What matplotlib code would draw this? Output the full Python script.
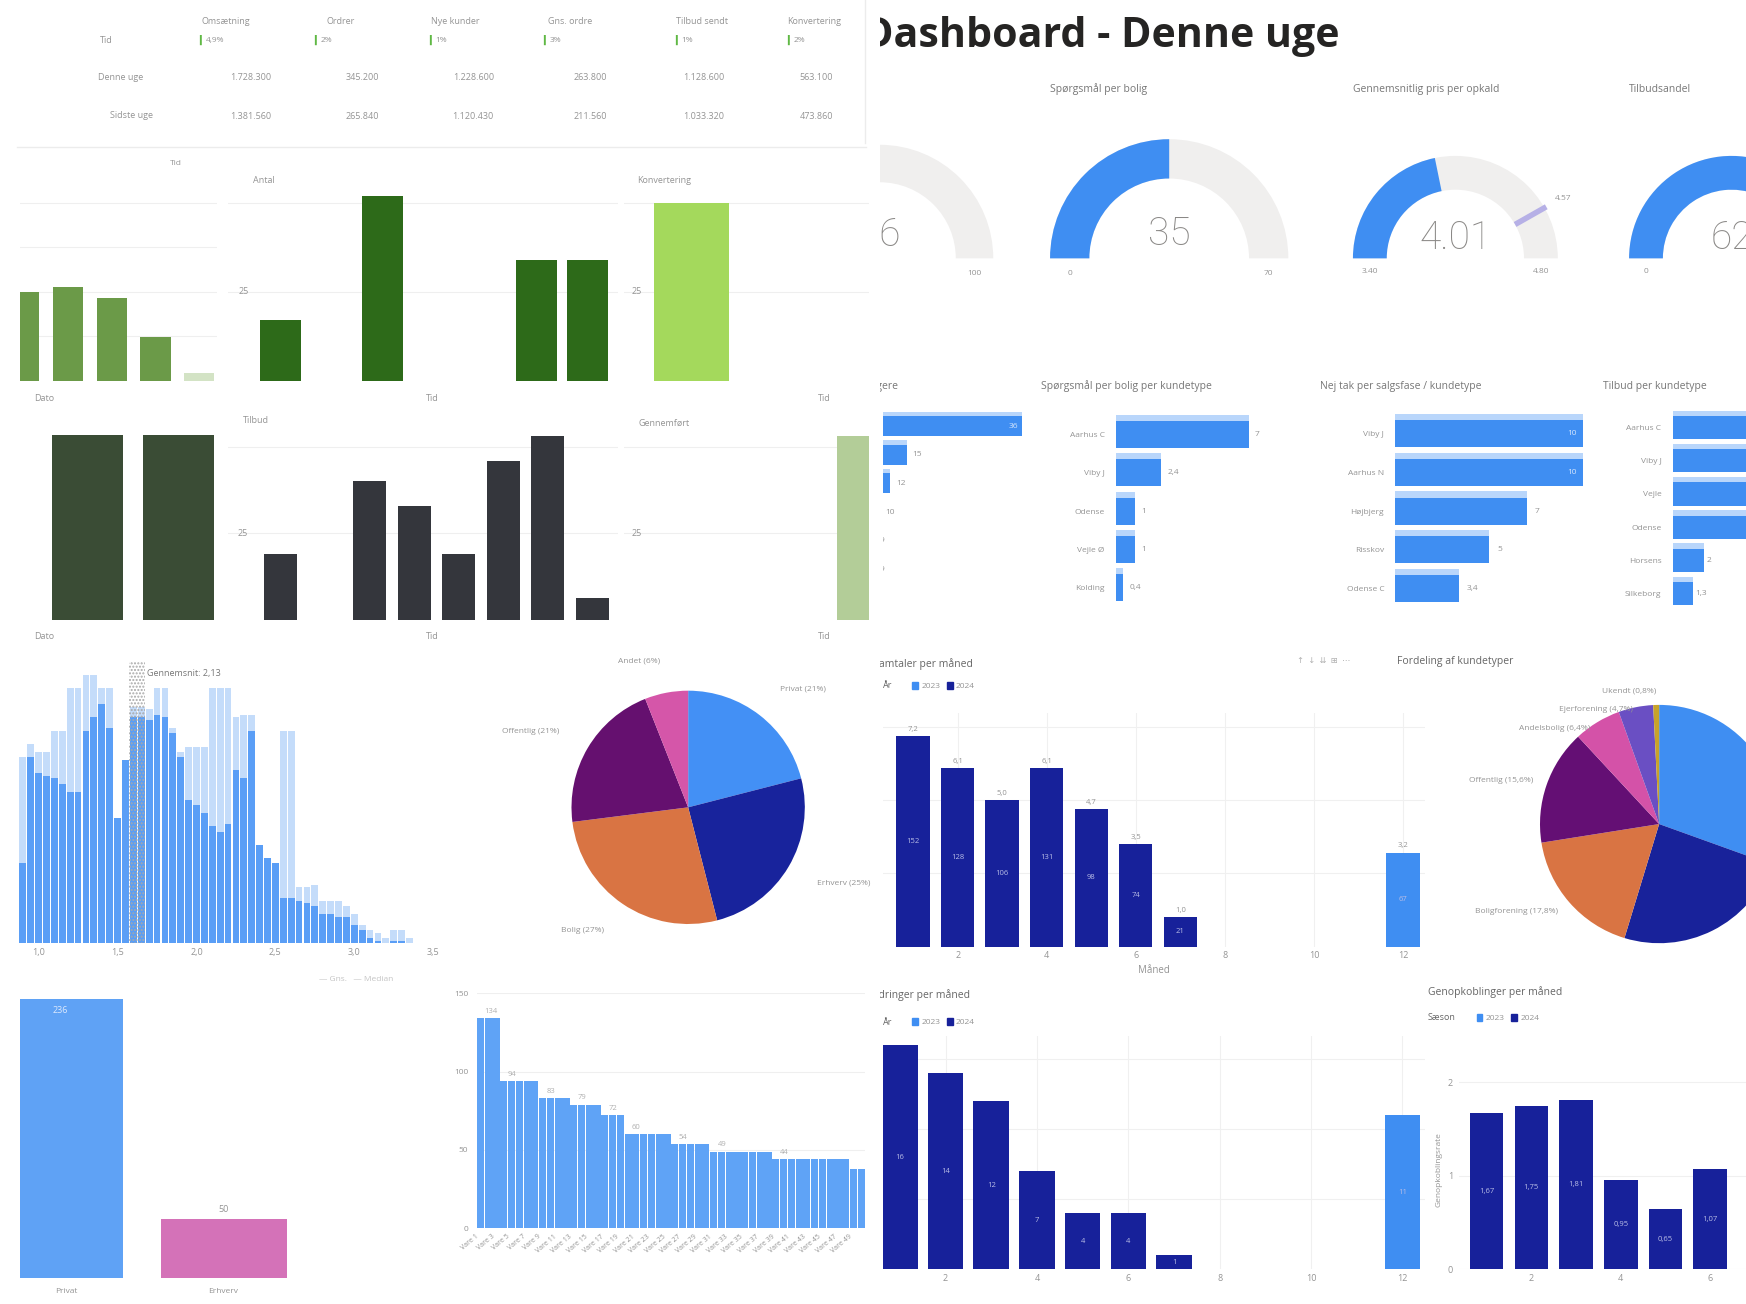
import matplotlib.pyplot as plt
import numpy as np
from matplotlib.patches import Wedge, Patch

plt.rcParams['font.family'] = ['Open Sans', 'DejaVu Sans']
plt.rcParams['axes.facecolor'] = 'none'

# ---------------- data ----------------
table_head = ['Omsætning', 'Ordrer', 'Nye kunder', 'Gns. ordre', 'Tilbud sendt', 'Konvertering']
table_delta = ['4,9%', '2%', '1%', '3%', '1%', '2%']
table_rows = ['Denne uge', 'Sidste uge']
table_now = ['1.728.300', '345.200', '1.228.600', '263.800', '1.128.600', '563.100']
table_prev = ['1.381.560', '265.840', '1.120.430', '211.560', '1.033.320', '473.860']

green_a = [20, 21, 18.5, 9.8, 1.8]
green_b = [17, 0, 52, 0, 0, 34, 34]
green_d = [50, 0]
green_e = [8, 8]
gray_f = [19, 0, 40, 33, 19, 46, 53, 6.4]
green_g = [0, 53]

hist_med = [30, 70, 64, 63, 62, 60, 57, 57, 80, 85, 90, 81, 47, 69, 85, 85, 84, 86, 85, 79,
            70, 54, 52, 49, 44, 42, 45, 65, 62, 80, 37, 32, 30, 17, 17, 16, 15, 14, 11, 11,
            10, 10, 7, 5, 2, 1, 0, 1, 1, 0]
hist_light = [70, 75, 72, 72, 80, 80, 96, 96, 101, 101, 96, 96, 47, 69, 89, 89, 88, 96, 96, 81,
              72, 74, 74, 74, 96, 96, 96, 85, 86, 86, 37, 32, 30, 80, 80, 21, 21, 22, 16, 16,
              16, 14, 11, 7, 5, 4, 2, 5, 5, 2]
hist_ticks = ['1,0', '1,5', '2,0', '2,5', '3,0', '3,5']

pie1_vals = [21, 25, 27, 21, 6]
pie1_labels = ['Privat (21%)', 'Erhverv (25%)', 'Bolig (27%)', 'Offentlig (21%)', 'Andet (6%)']

type_names = ['Privat', 'Erhverv']
type_vals = [236, 50]

step_vals = [134, 134, 134, 94, 94, 94, 94, 94, 83, 83, 83, 83, 79, 79, 79, 79, 72, 72, 72,
             60, 60, 60, 60, 60, 60, 54, 54, 54, 54, 54, 49, 49, 49, 49, 49, 49, 49, 49,
             44, 44, 44, 44, 44, 44, 44, 44, 44, 44, 38, 38]

gauge_titles = ['Antal kunder', 'Spørgsmål per bolig', 'Gennemsnitlig pris per opkald', 'Tilbudsandel']
gauge_vals = [46, 35, 4.01, 62]
gauge_min = [0, 0, 3.40, 0]
gauge_max = [100, 70, 4.80, 100]
gauge_text = ['46', '35', '4.01', '62']
gauge_lo = ['0', '0', '3.40', '0']
gauge_hi = ['100', '70', '4.80', '']
gauge_target = 4.57

p1_vals = [36, 15, 12, 10, 9, 9]
p2_names = ['Aarhus C', 'Viby J', 'Odense', 'Vejle Ø', 'Kolding']
p2_vals = [7, 2.4, 1, 1, 0.4]
p3_names = ['Viby J', 'Aarhus N', 'Højbjerg', 'Risskov', 'Odense C']
p3_vals = [10, 10, 7, 5, 3.4]
p4_names = ['Aarhus C', 'Viby J', 'Vejle', 'Odense', 'Horsens', 'Silkeborg']
p4_vals = [9, 8, 8, 7, 2, 1.3]

months_now = [1, 2, 3, 4, 5, 6, 7]
months_prev = [12]
talk_now = [7.2, 6.1, 5.0, 6.1, 4.7, 3.5, 1.0]
talk_now_n = [152, 128, 106, 131, 98, 74, 21]
talk_prev = [3.2]
talk_prev_n = [67]
change_now = [16, 14, 12, 7, 4, 4, 1]
change_prev = [11]
rate_months = [1, 2, 3, 4, 5, 6]
rate_vals = [1.67, 1.75, 1.81, 0.95, 0.65, 1.07]

pie2_vals = [30.5, 24.2, 17.8, 15.6, 6.4, 4.7, 0.8]
pie2_labels = ['Privat (30,5%)', 'Erhverv (24,2%)', 'Boligforening (17,8%)', 'Offentlig (15,6%)',
               'Andelsbolig (6,4%)', 'Ejerforening (4,7%)', 'Ukendt (0,8%)']

# ---------------- style ----------------
GRAY = '#949494'
BLUE = '#3f8ef2'
NAVY = '#17219a'
W, H = 1568, 1171

fig = plt.figure(figsize=(17.46, 13.04), dpi=100)


def box(x0, y0, x1, y1):
    return fig.add_axes([x0 / W, 1 - y1 / H, (x1 - x0) / W, (y1 - y0) / H])


def bar_axes(x0, y0, x1, y1, xlim, ylim):
    ax = box(x0, y0, x1, y1)
    ax.set_xlim(*xlim)
    ax.set_ylim(*ylim)
    for s in ax.spines.values():
        s.set_visible(False)
    ax.tick_params(length=0, labelsize=6.5, labelcolor=GRAY)
    ax.set_xticks([])
    ax.set_yticks([])
    return ax


def ygrid(ax, ticks):
    ax.set_yticks(ticks)
    ax.set_yticklabels([])
    ax.grid(axis='y', color='#efefef', lw=0.8)
    ax.set_axisbelow(True)


# background axes in reference pixel units, for clipped texts
left_bg = box(0, 0, 786, H)
left_bg.set_xlim(0, 786); left_bg.set_ylim(H, 0); left_bg.axis('off')
right_bg = box(790, 0, W, H)
right_bg.set_xlim(790, W); right_bg.set_ylim(H, 0); right_bg.axis('off')


def t(ax, x, y, s, size=6.5, color=GRAY, **kw):
    return ax.text(x, y, s, fontsize=size, color=color, clip_on=True, **kw)


# ---------------- left: table ----------------
head_x = [203, 306, 409, 512, 630, 731]
cell_x = [225, 325, 425, 530, 632, 733]
t(left_bg, 95, 36, 'Tid', ha='center', va='center')
for i in range(6):
    t(left_bg, head_x[i], 19, table_head[i], ha='center', va='center')
    t(left_bg, head_x[i] - 24, 36, '▎', color='#5fb844', va='center', size=7)
    t(left_bg, head_x[i] - 18, 36, table_delta[i], va='center', size=6)
    t(left_bg, cell_x[i], 70, table_now[i], ha='center', va='center')
    t(left_bg, cell_x[i], 105, table_prev[i], ha='center', va='center')
t(left_bg, 108, 70, table_rows[0], ha='center', va='center')
t(left_bg, 118, 104, table_rows[1], ha='center', va='center')
left_bg.plot([15, 778], [132, 132], color='#ececec', lw=1)
left_bg.plot([777, 777], [0, 128], color='#ececec', lw=1)

# ---------------- left: green / gray bar charts ----------------
ax = bar_axes(18, 142, 195, 342, (-0.10, 4.41), (0, 50))
ygrid(ax, [10, 20, 30, 40])
ax.bar(range(5), green_a, width=0.69, color=['#6b9a48'] * 4 + ['#d3e3c5'])
t(left_bg, 40, 358, 'Dato', ha='center', va='center')
t(left_bg, 158, 147, 'Tid', ha='center', va='center', size=6)

ax = bar_axes(205, 150, 555, 342, (-1.02, 6.59), (0, 60))
ygrid(ax, [25, 50])
ax.bar(range(7), green_b, width=0.8, color='#2d6a19')
ax.text(-0.72, 25, '25', fontsize=6.5, color=GRAY, ha='center', va='center')
t(left_bg, 237, 162, 'Antal', ha='center', va='center')
t(left_bg, 388, 358, 'Tid', ha='center', va='center')

ax = bar_axes(560, 150, 780, 342, (-0.372, 0.970), (0, 60))
ygrid(ax, [25, 50])
ax.bar(range(2), green_d, width=0.41, color='#a4d95c')
ax.text(-0.3, 25, '25', fontsize=6.5, color=GRAY, ha='center', va='center')
t(left_bg, 596, 162, 'Konvertering', ha='center', va='center')
t(left_bg, 740, 358, 'Tid', ha='center', va='center')

ax = bar_axes(18, 370, 195, 557, (-0.74, 1.42), (0, 9))
ax.bar(range(2), green_e, width=0.78, color='#3a4c35')
t(left_bg, 40, 572, 'Dato', ha='center', va='center')

ax = bar_axes(205, 370, 555, 557, (-1.18, 7.58), (0, 60))
ygrid(ax, [25, 50])
ax.bar(range(8), gray_f, width=0.75, color='#34363c')
ax.text(-0.85, 25, '25', fontsize=6.5, color=GRAY, ha='center', va='center')
t(left_bg, 230, 378, 'Tilbud', ha='center', va='center')
t(left_bg, 388, 572, 'Tid', ha='center', va='center')

ax = bar_axes(560, 370, 780, 557, (-0.372, 0.970), (0, 60))
ygrid(ax, [25, 50])
ax.bar(range(2), green_g, width=0.41, color='#b3cd98')
ax.text(-0.3, 25, '25', fontsize=6.5, color=GRAY, ha='center', va='center')
t(left_bg, 596, 380, 'Gennemført', ha='center', va='center')
t(left_bg, 740, 572, 'Tid', ha='center', va='center')

# ---------------- left: histogram ----------------
ax = bar_axes(17, 594, 389, 847, (-0.5, 51.8), (0, 106))
xh = np.arange(len(hist_med))
ax.bar(xh, hist_light, width=0.86, color='#c4dcfa')
ax.bar(xh, hist_med, width=0.86, color='#5a9ef6')
ax.axvspan(13.5, 15.5, facecolor='none', hatch='.....', edgecolor='#a8a8a8', lw=0)
ax.text(15.7, 103, 'Gennemsnit: 2,13', fontsize=6.5, color='#777777', va='top')
ax.set_xticks([2, 12, 22, 32, 42, 52])
ax.set_xticklabels(hist_ticks)
t(left_bg, 320, 880, '— Gns.   — Median', ha='center', va='center', size=6, color='#c4c4c4')

# ---------------- left: pie ----------------
ax = box(500, 615, 736, 835)
pie1_colors = ['#4390f5', '#18239c', '#d97443', '#65106f', '#d556a9']
ax.pie(pie1_vals, startangle=90, counterclock=False, colors=pie1_colors,
       labels=pie1_labels, labeldistance=1.28,
       textprops=dict(fontsize=6, color=GRAY), wedgeprops=dict(linewidth=0))
ax.set_xlim(-1.12, 1.12)
ax.set_ylim(-1.05, 1.05)

# ---------------- left: two bars ----------------
ax = bar_axes(18, 880, 385, 1148, (-0.245, 2.25), (0, 252))
ax.bar(range(2), type_vals, width=0.77, color=['#5fa2f5', '#d472b8'])
ax.text(0, type_vals[0] - 6, str(type_vals[0]), ha='center', va='top', fontsize=6.5, color='#dce9fd')
ax.text(1, type_vals[1] + 4, str(type_vals[1]), ha='center', va='bottom', fontsize=6.5, color=GRAY)
t(left_bg, 60, 1160, type_names[0], ha='center', va='center', size=6)
t(left_bg, 200, 1160, type_names[1], ha='center', va='center', size=6)

# ---------------- left: step-like bar chart ----------------
ax = bar_axes(428, 892, 777, 1103, (-0.5, 49.5), (0, 150))
ax.set_yticks([0, 50, 100, 150])
ax.grid(axis='y', color='#efefef', lw=0.8)
ax.set_axisbelow(True)
ax.tick_params(axis='y', pad=6, labelsize=6)
xs = np.arange(len(step_vals))
ax.bar(xs, step_vals, width=0.92, color='#5fa3f6')
for i, v in enumerate(step_vals):
    if (i == 0 or v != step_vals[i - 1]) and i < len(step_vals) - 3:
        ax.text(i + 0.5, v + 2, str(v), fontsize=5.5, color='#b0b0b0', va='bottom', ha='left')
ax.set_xticks(xs[::2])
ax.set_xticklabels([f'Vare {i + 1}' for i in xs[::2]], rotation=40, ha='right', fontsize=5)

# ---------------- right: title ----------------
title = t(right_bg, 775, 42, 'Dashboard - Denne uge', size=30, color='#252423',
          fontweight='bold', va='baseline', ha='left')
fig.canvas.draw()
tw = title.get_window_extent(fig.canvas.get_renderer()).width
title.set_fontsize(30 * (427 * 1746 / 1568) / tw)

# ---------------- right: gauges ----------------
gauge_cx = [790, 1050, 1307, 1555]
gauge_R = [102, 107, 92, 92]
for i in range(4):
    cx, cy, R = gauge_cx[i], 232, gauge_R[i]
    th = 0.33
    x0, x1 = max(cx - 1.3 * R, 790), min(cx + 1.3 * R, W)
    y0, y1 = cy - 1.3 * R, cy + 0.35 * R
    ax = box(x0, y0, x1, y1)
    ax.set_xlim((x0 - cx) / R, (x1 - cx) / R)
    ax.set_ylim(-(y1 - cy) / R, (cy - y0) / R)
    ax.axis('off')
    frac = (gauge_vals[i] - gauge_min[i]) / (gauge_max[i] - gauge_min[i])
    ax.add_patch(Wedge((0, 0), 1, 0, 180, width=th, color='#f0efee', lw=0))
    ax.add_patch(Wedge((0, 0), 1, 180 - 180 * frac, 180, width=th, color=BLUE, lw=0))
    ax.text(0, 0.2, gauge_text[i], fontsize=28, color='#8a8886', ha='center', va='center',
            family=['Roboto', 'DejaVu Sans'], fontweight='light', clip_on=True)
    ax.text(-1 + th / 2, -0.13, gauge_lo[i], fontsize=6, color=GRAY, ha='center', va='center', clip_on=True)
    if gauge_hi[i]:
        ax.text(1 - th / 2, -0.13, gauge_hi[i], fontsize=6, color=GRAY, ha='center', va='center', clip_on=True)
    if i == 2:
        ang = np.radians(180 - 180 * (gauge_target - gauge_min[i]) / (gauge_max[i] - gauge_min[i]))
        ax.plot([(1 - th) * np.cos(ang), 1.02 * np.cos(ang)], [(1 - th) * np.sin(ang), 1.02 * np.sin(ang)],
                color='#b6b0e6', lw=4, solid_capstyle='butt')
        ax.text(1.12 * np.cos(ang), 1.12 * np.sin(ang), f'{gauge_target:.2f}', fontsize=6,
                color=GRAY, ha='left', va='bottom')
    t(right_bg, cx - R, 80, gauge_titles[i], ha='left', va='center', size=7.5, color='#777777')

# ---------------- right: horizontal bars ----------------


def hbar(x0, y0, x1, y1, vals, xlim, names, n_inside):
    ax = bar_axes(x0, y0, x1, y1, xlim, (len(vals) - 0.5, -0.5))
    y = np.arange(len(vals))
    ax.barh(y - 0.12, vals, height=0.78, color='#b9d6fb')
    ax.barh(y, vals, height=0.7, color=BLUE)
    if names:
        ax.set_yticks(y)
        ax.set_yticklabels(names, fontsize=6, color=GRAY)
        ax.tick_params(axis='y', pad=8)
    span = xlim[1] - xlim[0]
    for i, v in enumerate(vals):
        lab = f'{v:g}'.replace('.', ',')
        if i < n_inside:
            ax.text(v - 0.03 * span, i, lab, ha='right', va='center', fontsize=6, color='#d5e6fd', clip_on=True)
        elif v + 0.12 * span < xlim[1]:
            ax.text(v + 0.04 * span, i, lab, ha='left', va='center', fontsize=6, color=GRAY, clip_on=True)
    return ax


hbar(793, 370, 925, 524, p1_vals, (10.7, 37.4), None, 1)
hbar(1002, 373, 1140, 545, p2_vals, (0, 8.1), p2_names, 0)
hbar(1253, 372, 1430, 546, p3_vals, (0, 10.5), p3_names, 2)
hbar(1502, 369, W, 548, p4_vals, (0, 4.7), p4_names, 0)
t(right_bg, 740, 347, 'Antal deltagere', ha='left', va='center', size=7.5, color='#777777')
t(right_bg, 935, 347, 'Spørgsmål per bolig per kundetype', ha='left', va='center', size=7.5, color='#777777')
t(right_bg, 1185, 347, 'Nej tak per salgsfase / kundetype', ha='left', va='center', size=7.5, color='#777777')
t(right_bg, 1440, 347, 'Tilbud per kundetype', ha='left', va='center', size=7.5, color='#777777')

# ---------------- right: monthly columns ----------------


def legend_row(ax, x, y, title_txt):
    t(right_bg, x, y, title_txt, ha='left', va='center', size=6.5, color='#666666')
    ax.legend(handles=[Patch(color=BLUE, label='2023'), Patch(color=NAVY, label='2024')],
              ncol=2, loc='center left', bbox_to_anchor=(x + 14 + 6 * len(title_txt), y),
              bbox_transform=right_bg.transData, frameon=False, fontsize=6,
              handlelength=0.7, handleheight=0.9, handletextpad=0.4, columnspacing=0.8,
              labelcolor=GRAY, borderaxespad=0, borderpad=0)


ax = bar_axes(793, 640, 1280, 850, (0.325, 12.5), (0, 8.0))
ax.set_xticks(range(2, 13, 2))
ax.set_yticks([2.5, 5, 7.5])
ax.set_yticklabels([])
ax.grid(color='#f0f0f0', lw=0.8)
ax.set_axisbelow(True)
ax.bar(months_now, talk_now, width=0.75, color=NAVY)
ax.bar(months_prev, talk_prev, width=0.75, color=BLUE)
for m, v, n in zip(months_now + months_prev, talk_now + talk_prev, talk_now_n + talk_prev_n):
    ax.text(m, v + 0.12, f'{v:.1f}'.replace('.', ','), ha='center', va='bottom', fontsize=5.5, color=GRAY)
    ax.text(m, v / 2, str(n), ha='center', va='center', fontsize=5.5, color='#b9bde6')
ax.set_xlabel('Måned', fontsize=7, color=GRAY, labelpad=3)
t(right_bg, 760, 596, 'Antal samtaler per måned', ha='left', va='center', size=7.5, color='#666666')
legend_row(ax, 793, 616, 'År')

ax = bar_axes(793, 930, 1280, 1140, (0.63, 12.5), (0, 16.7))
ax.set_xticks(range(2, 13, 2))
ax.set_yticks([5, 10, 15])
ax.set_yticklabels([])
ax.grid(color='#f0f0f0', lw=0.8)
ax.set_axisbelow(True)
ax.bar(months_now, change_now, width=0.78, color=NAVY)
ax.bar(months_prev, change_prev, width=0.78, color=BLUE)
for m, v in zip(months_now + months_prev, change_now + change_prev):
    ax.text(m, v / 2, str(v), ha='center', va='center', fontsize=5.5, color='#b9bde6')
t(right_bg, 775, 894, 'Ændringer per måned', ha='left', va='center', size=7.5, color='#666666')
legend_row(ax, 793, 918, 'År')

ax = bar_axes(1310, 960, W, 1140, (0.375, 6.8), (0, 2.14))
ax.set_xticks([2, 4, 6])
ax.set_yticks([0, 1, 2])
ax.tick_params(axis='y', pad=4)
ax.grid(axis='y', color='#f0f0f0', lw=0.8)
ax.set_axisbelow(True)
ax.bar(rate_months, rate_vals, width=0.75, color=NAVY)
for m, v in zip(rate_months, rate_vals):
    ax.text(m, v / 2, f'{v:.2f}'.replace('.', ','), ha='center', va='center', fontsize=5.5, color='#b9bde6')
ax.set_ylabel('Genopkoblingsrate', fontsize=6, color=GRAY, labelpad=4)
t(right_bg, 1282, 891, 'Genopkoblinger per måned', ha='left', va='center', size=7.5, color='#666666')
legend_row(ax, 1282, 914, 'Sæson')

# ---------------- right: pie ----------------
ax = box(1383, 633, 1597, 847)
pie2_colors = [BLUE, '#18229a', '#d97443', '#640f74', '#d452a8', '#6a4fc3', '#c8a32a']
wedges, texts = ax.pie(pie2_vals, startangle=90, counterclock=False, colors=pie2_colors,
                       labels=pie2_labels, labeldistance=1.12,
                       textprops=dict(fontsize=6, color=GRAY), wedgeprops=dict(linewidth=0))
ax.set_xlim(-1, 1)
ax.set_ylim(-1, 1)
for tx in texts:
    if tx.get_position()[0] > 0:
        tx.set_visible(False)
left_texts = sorted([tx for tx in texts if tx.get_position()[0] < 0], key=lambda tx: -tx.get_position()[1])
prev_y = None
for tx in left_texts:
    x, y = tx.get_position()
    if prev_y is not None and y > prev_y - 0.16:
        y = prev_y - 0.16
    tx.set_position((x, y))
    tx.set_ha('right')
    prev_y = y
t(right_bg, 1165, 594, '↑  ↓  ⇊  ⊞  ⋯', ha='left', va='center', size=6, color='#b0b0b0')
t(right_bg, 1255, 594, 'Fordeling af kundetyper', ha='left', va='center', size=7.5, color='#666666')

fig.savefig('out.png', dpi=100)
